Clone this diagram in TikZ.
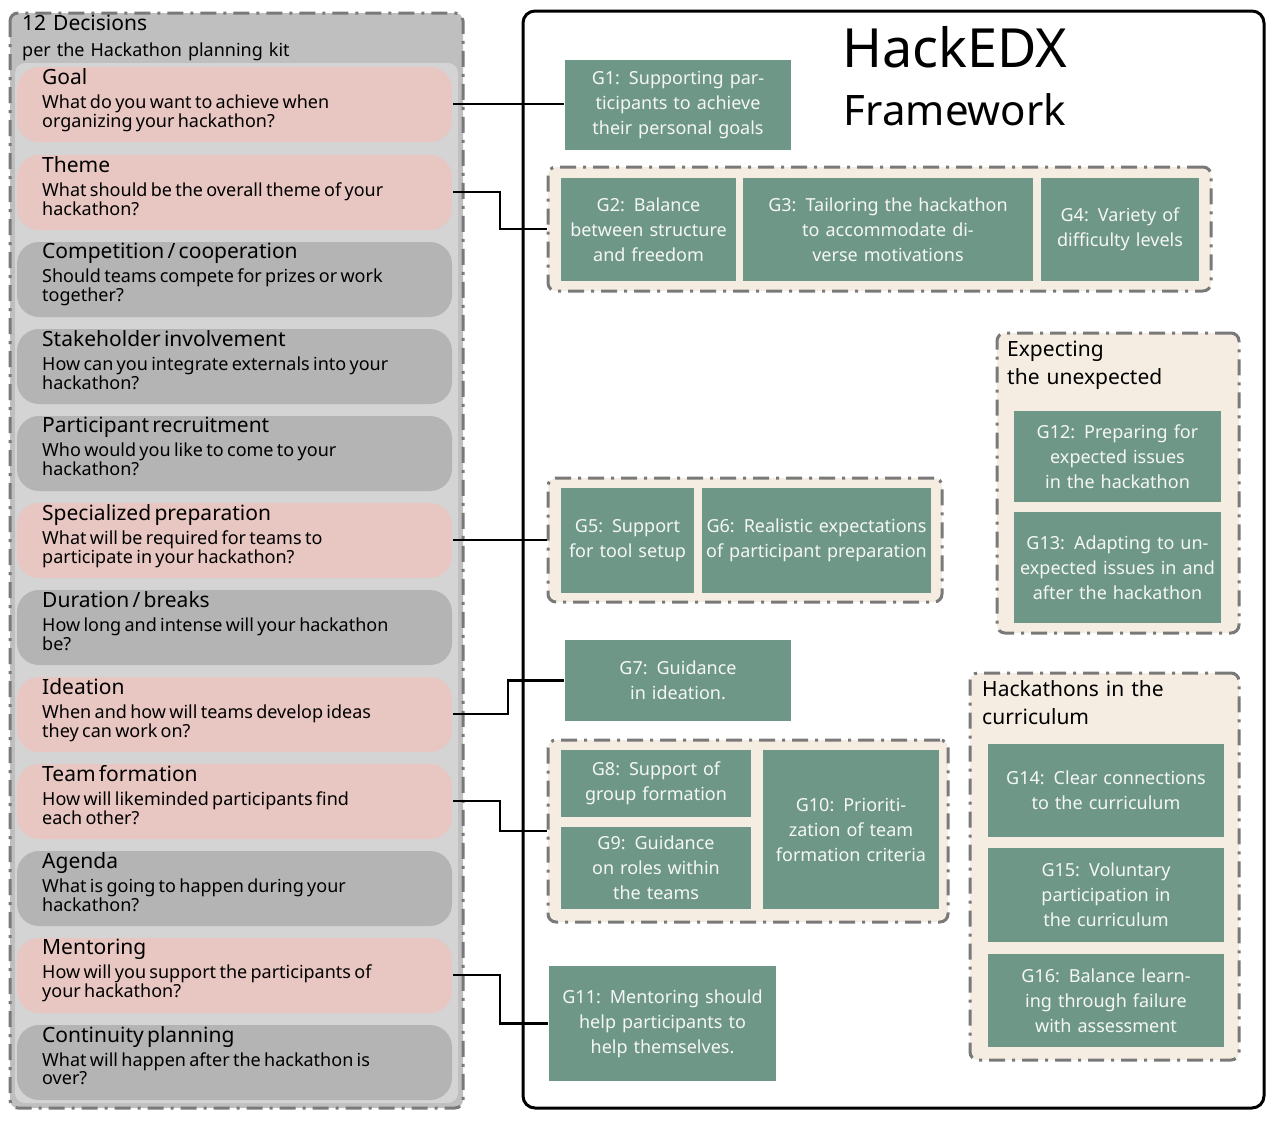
\documentclass[tikz,border=0pt]{standalone}
\usepackage{fontspec}
\setmainfont{Noto Sans}
\begin{document}
\begin{tikzpicture}[x=1pt,y=-1pt,
  dd/.style={draw=gray!95!black,line width=3pt,dash pattern=on 16pt off 7pt on 3pt off 7pt,rounded corners=8pt},
  pill/.style={rounded corners=22pt,draw=none},
  hd/.style={anchor=north west,inner sep=0pt,align=left,text width=400pt},
  gbox/.style={fill=grn,draw=beig,line width=1.5pt,text=white!92!grn,align=center,font=\fontsize{18}{25}\selectfont,inner sep=2pt},
  grp/.style={dd,fill=beig},
  con/.style={line width=2.5pt,black}]
\definecolor{grn}{HTML}{6F9788}
\definecolor{beig}{HTML}{F6EDE2}
\definecolor{pink}{HTML}{E8C6C1}
\definecolor{gpill}{HTML}{B4B4B4}
\useasboundingbox (0,0) rectangle (1280,1125);
% left panel
\draw[dd,fill=black!25] (10,13) rectangle (463,1108);
\fill[black!17,rounded corners=10pt] (15,63) rectangle (458,1103);
\node[hd,font=\fontsize{21}{24}\bfseries\selectfont] (ttl) at (22,15) {12 Decisions};
\node[hd,font=\fontsize{18}{22}\bfseries\selectfont] (sub) at (22,43) {per the Hackathon planning kit};
\newcommand{\pillrow}[6]{%
  \fill[pill,#2] (17,#1) rectangle (452,#1+75);
  \coordinate (#3) at (453,#1+37);
  \node[hd] at (42,#1+1) {{\fontsize{21}{25}\bfseries\selectfont #4}\\[-1pt]{\fontsize{18}{25}\selectfont #5\\#6}};}
\pillrow{67}{pink}{p1}{Goal}{What do you want to achieve when}{organizing your hackathon?}
\pillrow{155}{pink}{p2}{Theme}{What should be the overall theme of your}{hackathon?}
\pillrow{242}{gpill}{p3}{Competition / cooperation}{Should teams compete for prizes or work}{together?}
\pillrow{329}{gpill}{p4}{Stakeholder involvement}{How can you integrate externals into your}{hackathon?}
\pillrow{416}{gpill}{p5}{Participant recruitment}{Who would you like to come to your}{hackathon?}
\pillrow{503}{pink}{p6}{Specialized preparation}{What will be required for teams to}{participate in your hackathon?}
\pillrow{590}{gpill}{p7}{Duration / breaks}{How long and intense will your hackathon}{be?}
\pillrow{677}{pink}{p8}{Ideation}{When and how will teams develop ideas}{they can work on?}
\pillrow{764}{pink}{p9}{Team formation}{How will likeminded participants find}{each other?}
\pillrow{851}{gpill}{p10}{Agenda}{What is going to happen during your}{hackathon?}
\pillrow{938}{pink}{p11}{Mentoring}{How will you support the participants of}{your hackathon?}
\pillrow{1025}{gpill}{p12}{Continuity planning}{What will happen after the hackathon is}{over?}
% right panel
\draw[line width=3pt,rounded corners=12pt] (523,11) rectangle (1264,1108);
\node[font=\fontsize{54}{60}\bfseries\selectfont] (t1) at (955,47) {HackEDX};
\node[font=\fontsize{42}{48}\selectfont] (t2) at (955,110) {Framework};
% groups
\node[grp,minimum width=663pt,minimum height=124pt] (gr1) at (879.5,229) {};
\node[grp,minimum width=394pt,minimum height=124pt] (gr2) at (745,540) {};
\node[grp,minimum width=400pt,minimum height=182pt] (gr3) at (748,831) {};
\node[grp,minimum width=242pt,minimum height=300pt] (gr4) at (1118,483) {};
\node[grp,minimum width=269pt,minimum height=387pt] (gr5) at (1104.5,866.5) {};
\node[hd,font=\fontsize{21}{28}\bfseries\selectfont] (l4) at (1007,341) {Expecting\\the unexpected};
\node[hd,font=\fontsize{21}{28}\bfseries\selectfont] (l5) at (982,680) {Hackathons in the\\curriculum};
% goal boxes
\node[gbox,draw=none,minimum width=226pt,minimum height=90pt,text width=215pt] (g1) at (678,105) {G1: Supporting participants to achieve their personal goals};
\node[gbox,minimum width=177pt,minimum height=105pt,text width=170pt] (g2) at (648.5,229.5) {G2: Balance between structure and freedom};
\node[gbox,minimum width=292pt,minimum height=105pt,text width=285pt] (g3) at (888,229.5) {G3: Tailoring the hackathon to accommodate diverse motivations};
\node[gbox,minimum width=160pt,minimum height=105pt,text width=150pt] (g4) at (1120,229.5) {G4: Variety of difficulty levels};
\node[gbox,minimum width=209pt,minimum height=93pt,text width=200pt] (g12) at (1117.5,456.5) {G12: Preparing for expected issues in the hackathon};
\node[gbox,minimum width=209pt,minimum height=113pt,text width=205pt] (g13) at (1117.5,567.5) {G13: Adapting to unexpected issues in and after the hackathon};
\node[gbox,minimum width=135pt,minimum height=107pt,text width=130pt] (g5) at (627.5,540.5) {G5: Support for tool setup};
\node[gbox,minimum width=231pt,minimum height=107pt,text width=225pt] (g6) at (816.5,540.5) {G6: Realistic expectations of participant preparation};
\node[gbox,draw=none,minimum width=226pt,minimum height=81pt,text width=200pt] (g7) at (678,680.5) {G7: Guidance in ideation.};
\node[gbox,minimum width=192pt,minimum height=69pt,text width=185pt] (g8) at (656,783.5) {G8: Support of group formation};
\node[gbox,minimum width=192pt,minimum height=84pt,text width=170pt] (g9) at (656,868) {G9: Guidance on roles within the teams};
\node[gbox,minimum width=178pt,minimum height=161pt,text width=172pt] (g10) at (851,829.5) {G10: Prioritization of team formation criteria};
\node[gbox,minimum width=238pt,minimum height=95pt,text width=220pt] (g14) at (1106,790.5) {G14: Clear connections to the curriculum};
\node[gbox,minimum width=238pt,minimum height=96pt,text width=200pt] (g15) at (1106,895) {G15: Voluntary participation in the curriculum};
\node[gbox,minimum width=238pt,minimum height=95pt,text width=220pt] (g16) at (1106,1000.5) {G16: Balance learning through failure with assessment};
\node[gbox,draw=none,minimum width=227pt,minimum height=115pt,text width=215pt] (g11) at (662.5,1023.5) {G11: Mentoring should help participants to help themselves.};
% connectors
\draw[con] (p1) -- (g1.west |- p1);
\draw[con] (p2) -- (500,192) |- (gr1.west);
\draw[con] (p6) -- (gr2.west |- p6);
\draw[con] (p8) -- (508,714) |- (g7.west);
\draw[con] (p9) -- (500,801) |- (gr3.west);
\draw[con] (p11) -- (500,975) |- (g11.west);
\end{tikzpicture}
\end{document}
